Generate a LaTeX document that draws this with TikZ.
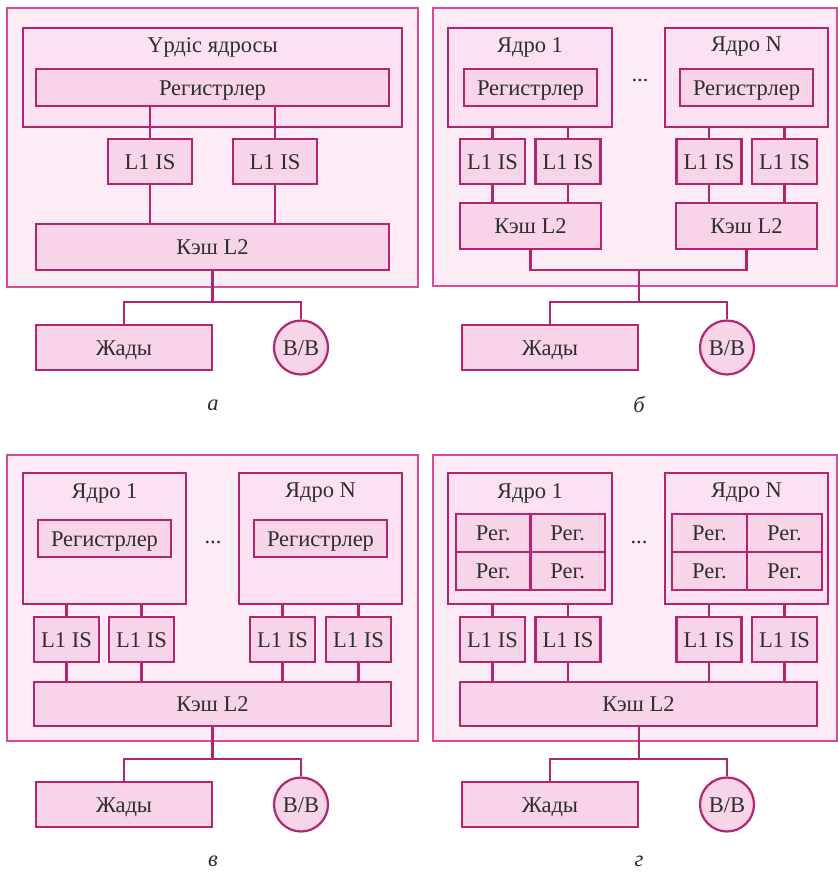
\documentclass[tikz,border=0pt]{standalone}
\usepackage{fontspec}
\setmainfont{Liberation Serif}
\usepackage{xcolor}
\usepackage{tikz}
\usetikzlibrary{positioning,calc}
\definecolor{panelline}{HTML}{DC4A93}
\definecolor{panelfill}{HTML}{FDEBF6}
\definecolor{boxline}{HTML}{B3266F}
\definecolor{corefill}{HTML}{FBE1F1}
\definecolor{boxfill}{HTML}{F8D4E9}
\definecolor{ink}{HTML}{2E2E2E}
\newcommand\lblfont{\fontsize{22.5}{26}\selectfont}
\tikzset{
  panel/.style  ={rectangle, draw=panelline, fill=panelfill, line width=2.2pt,
                  inner sep=0pt},
  corebox/.style={rectangle, draw=boxline, fill=corefill, line width=2.2pt,
                  inner sep=0pt},
  unitbox/.style={rectangle, draw=boxline, fill=boxfill, line width=2.2pt,
                  inner sep=0pt, font=\lblfont, text=ink,
                  text height=15pt, text depth=0pt},
  l1box/.style  ={unitbox, minimum width=65pt, minimum height=45pt},
  regcell/.style={unitbox, minimum width=74.5pt, minimum height=38pt},
  iobox/.style  ={circle, draw=boxline, fill=boxfill, line width=2.2pt,
                  inner sep=0pt, minimum size=54pt, font=\lblfont, text=ink,
                  text height=15pt, text depth=0pt},
  title/.style  ={font=\lblfont, text=ink, inner sep=1pt},
  bus/.style    ={draw=boxline, line width=2.2pt},
  capt/.style   ={font=\lblfont\itshape, text=ink}
}

\begin{document}
\begin{tikzpicture}[x=1pt, y=-1pt]
  \useasboundingbox (0,0) rectangle (838,876);

  % ---------------- a: one core ----------------
  \node[panel, minimum width=411pt, minimum height=279pt] (pa) at (212.5,147.5) {};
  \node[corebox, minimum width=379pt, minimum height=99pt] (coreA) at (212.5,77.5) {};
  \node[title] (coreAname) at (212.5,47) {Үрдіс ядросы};
  \node[unitbox, minimum width=353pt, minimum height=37pt] (regA) at (212.5,87.5) {Регистрлер};
  \node[unitbox, minimum width=84pt, minimum height=45pt] (l1a1) at (150,161.5) {L1 IS};
  \node[unitbox, minimum width=84pt, minimum height=45pt] (l1a2) at (275,161.5) {L1 IS};
  \node[unitbox, minimum width=353pt, minimum height=46pt] (l2A) at (212.5,247) {Кэш L2};
  \node[unitbox, minimum width=176pt, minimum height=45pt] (memA) at (124,347.5) {Жады};
  \node[iobox] (ioA) at (301,347.5) {B/B};
  \node[capt] (captA) at (213,405) {а};
  \coordinate (jA) at (212.5,302);

  \draw[bus] (l1a1.north) -- (l1a1.north |- regA.south);
  \draw[bus] (l1a2.north) -- (l1a2.north |- regA.south);
  \draw[bus] (l1a1.south) -- (l1a1.south |- l2A.north);
  \draw[bus] (l1a2.south) -- (l1a2.south |- l2A.north);
  \draw[bus] (l2A.south) -- (jA);
  \draw[bus] (memA.north) |- (jA) -| (ioA.north);

  % ---------------- b: N cores, own L2 ----------------
  \node[panel, minimum width=404pt, minimum height=278pt] (pb) at (635,147) {};
  \node[corebox, minimum width=164pt, minimum height=99pt] (coreB1) at (530,77.5) {};
  \node[corebox, minimum width=163pt, minimum height=99pt] (coreBN) at (746.5,77.5) {};
  \node[title] (coreB1name) at (530,47) {Ядро 1};
  \node[title] (coreBNname) at (746.5,47) {Ядро N};
  \node[unitbox, minimum width=133pt, minimum height=37pt] (regB1) at (530.5,87.5) {Регистрлер};
  \node[unitbox, minimum width=133pt, minimum height=37pt] (regBN) at (746.5,87.5) {Регистрлер};
  \node[title] (dotsB) at (640,80) {...};
  \node[l1box] (l1b1) at (492.5,161.5) {L1 IS};
  \node[l1box] (l1b2) at (568,161.5)   {L1 IS};
  \node[l1box] (l1b3) at (709,161.5)   {L1 IS};
  \node[l1box] (l1b4) at (784.5,161.5) {L1 IS};
  \node[unitbox, minimum width=141pt, minimum height=46pt] (l2B1) at (530.5,226) {Кэш L2};
  \node[unitbox, minimum width=141pt, minimum height=46pt] (l2BN) at (746.5,226) {Кэш L2};
  \node[unitbox, minimum width=176pt, minimum height=45pt] (memB) at (550,347.5) {Жады};
  \node[iobox] (ioB) at (727,347.5) {B/B};
  \node[capt] (captB) at (639,405) {б};
  \coordinate (hB) at (639,270);
  \coordinate (jB) at (639,302);

  \draw[bus] (l1b1.north) -- (l1b1.north |- coreB1.south);
  \draw[bus] (l1b2.north) -- (l1b2.north |- coreB1.south);
  \draw[bus] (l1b3.north) -- (l1b3.north |- coreBN.south);
  \draw[bus] (l1b4.north) -- (l1b4.north |- coreBN.south);
  \draw[bus] (l1b1.south) -- (l1b1.south |- l2B1.north);
  \draw[bus] (l1b2.south) -- (l1b2.south |- l2B1.north);
  \draw[bus] (l1b3.south) -- (l1b3.south |- l2BN.north);
  \draw[bus] (l1b4.south) -- (l1b4.south |- l2BN.north);
  \draw[bus] (l2B1.south) |- (hB) -| (l2BN.south);
  \draw[bus] (hB) -- (jB);
  \draw[bus] (memB.north) |- (jB) -| (ioB.north);

  % ---------------- c: N cores, shared L2 ----------------
  \node[panel, minimum width=411pt, minimum height=286pt] (pc) at (212.5,598) {};
  \node[corebox, minimum width=163pt, minimum height=131pt] (coreC1) at (104.5,538.5) {};
  \node[corebox, minimum width=163pt, minimum height=131pt] (coreCN) at (320.5,538.5) {};
  \node[title] (coreC1name) at (104.5,493) {Ядро 1};
  \node[title] (coreCNname) at (320.5,493) {Ядро N};
  \node[unitbox, minimum width=133pt, minimum height=37pt] (regC1) at (104.5,538.5) {Регистрлер};
  \node[unitbox, minimum width=133pt, minimum height=37pt] (regCN) at (320.5,538.5) {Регистрлер};
  \node[title] (dotsC) at (213,542) {...};
  \node[l1box] (l1c1) at (66.5,639.5)  {L1 IS};
  \node[l1box] (l1c2) at (141.5,639.5) {L1 IS};
  \node[l1box] (l1c3) at (282.5,639.5) {L1 IS};
  \node[l1box] (l1c4) at (358.5,639.5) {L1 IS};
  \node[unitbox, minimum width=357pt, minimum height=44pt] (l2C) at (212.5,704) {Кэш L2};
  \node[unitbox, minimum width=176pt, minimum height=45pt] (memC) at (124,804.5) {Жады};
  \node[iobox] (ioC) at (301,804.5) {B/B};
  \node[capt] (captC) at (213,861) {в};
  \coordinate (jC) at (212.5,759);

  \draw[bus] (l1c1.north) -- (l1c1.north |- coreC1.south);
  \draw[bus] (l1c2.north) -- (l1c2.north |- coreC1.south);
  \draw[bus] (l1c3.north) -- (l1c3.north |- coreCN.south);
  \draw[bus] (l1c4.north) -- (l1c4.north |- coreCN.south);
  \draw[bus] (l1c1.south) -- (l1c1.south |- l2C.north);
  \draw[bus] (l1c2.south) -- (l1c2.south |- l2C.north);
  \draw[bus] (l1c3.south) -- (l1c3.south |- l2C.north);
  \draw[bus] (l1c4.south) -- (l1c4.south |- l2C.north);
  \draw[bus] (l2C.south) -- (jC);
  \draw[bus] (memC.north) |- (jC) -| (ioC.north);

  % ---------------- d: register banks per core ----------------
  \node[panel, minimum width=404pt, minimum height=286pt] (pd) at (635,598) {};
  \node[corebox, minimum width=164pt, minimum height=131pt] (coreD1) at (530,538.5) {};
  \node[corebox, minimum width=163pt, minimum height=131pt] (coreDN) at (746.5,538.5) {};
  \node[title] (coreD1name) at (530,493) {Ядро 1};
  \node[title] (coreDNname) at (746.5,493) {Ядро N};
  \node[regcell] (rd11) at (493.25,533) {Рег.};
  \node[regcell] (rd12) at (567.75,533) {Рег.};
  \node[regcell] (rd13) at (493.25,571) {Рег.};
  \node[regcell] (rd14) at (567.75,571) {Рег.};
  \node[regcell] (rdN1) at (709.5,533)  {Рег.};
  \node[regcell] (rdN2) at (784.5,533)  {Рег.};
  \node[regcell] (rdN3) at (709.5,571)  {Рег.};
  \node[regcell] (rdN4) at (784.5,571)  {Рег.};
  \node[title] (dotsD) at (639,542) {...};
  \node[l1box] (l1d1) at (492.5,639.5) {L1 IS};
  \node[l1box] (l1d2) at (568,639.5)   {L1 IS};
  \node[l1box] (l1d3) at (709,639.5)   {L1 IS};
  \node[l1box] (l1d4) at (784.5,639.5) {L1 IS};
  \node[unitbox, minimum width=357pt, minimum height=44pt] (l2D) at (638.5,704) {Кэш L2};
  \node[unitbox, minimum width=176pt, minimum height=45pt] (memD) at (550,804.5) {Жады};
  \node[iobox] (ioD) at (727,804.5) {B/B};
  \node[capt] (captD) at (639,861) {г};
  \coordinate (jD) at (639,759);

  \draw[bus] (l1d1.north) -- (l1d1.north |- coreD1.south);
  \draw[bus] (l1d2.north) -- (l1d2.north |- coreD1.south);
  \draw[bus] (l1d3.north) -- (l1d3.north |- coreDN.south);
  \draw[bus] (l1d4.north) -- (l1d4.north |- coreDN.south);
  \draw[bus] (l1d1.south) -- (l1d1.south |- l2D.north);
  \draw[bus] (l1d2.south) -- (l1d2.south |- l2D.north);
  \draw[bus] (l1d3.south) -- (l1d3.south |- l2D.north);
  \draw[bus] (l1d4.south) -- (l1d4.south |- l2D.north);
  \draw[bus] (l2D.south -| jD) -- (jD);
  \draw[bus] (memD.north) |- (jD) -| (ioD.north);
\end{tikzpicture}
\end{document}
